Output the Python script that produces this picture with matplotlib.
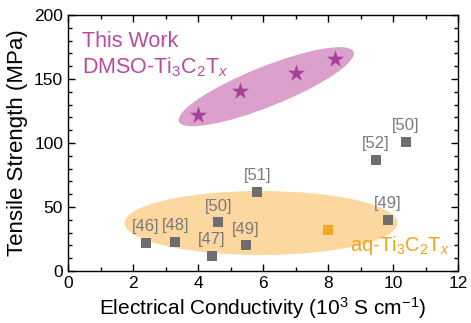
import matplotlib
matplotlib.use('Agg')
import matplotlib.pyplot as plt
from matplotlib.patches import Ellipse
from matplotlib.transforms import ScaledTranslation
from matplotlib.ticker import MultipleLocator

plt.rcParams['font.family'] = ['Liberation Sans', 'DejaVu Sans']
plt.rcParams['mathtext.fontset'] = 'custom'
plt.rcParams['mathtext.rm'] = 'Liberation Sans'
plt.rcParams['mathtext.it'] = 'Liberation Sans:italic'

# this work (DMSO-Ti3C2Tx)
work_x = [4.0, 5.3, 7.0, 8.2]
work_y = [122, 141, 155, 166]

# literature values
lit_x = [2.4, 3.3, 4.43, 4.62, 5.48, 5.82, 9.84, 9.47, 10.4]
lit_y = [22, 23, 12, 38, 20, 62, 40, 87, 101]
lit_refs = ['[46]', '[48]', '[47]', '[50]', '[49]', '[51]', '[49]', '[52]', '[50]']

# aq-Ti3C2Tx
aq_x = [8.0]
aq_y = [32]

fig = plt.figure(figsize=(4.71, 3.23), dpi=100)
ax = fig.add_axes([68/471, 52/323, 390/471, 256/323])

# shaded groups
ax.add_patch(Ellipse((5.94, 37.5), 8.4, 50, facecolor='#fccf88', alpha=0.8,
                     edgecolor='none', zorder=1))
pink = Ellipse((0, 0), 1.88, 0.40, angle=21.8, facecolor='#cf82bc', alpha=0.75,
               edgecolor='none', zorder=1,
               transform=fig.dpi_scale_trans + ScaledTranslation(6.1, 144, ax.transData))
ax.add_patch(pink)

ax.scatter(work_x, work_y, marker='*', s=170, color='#a8419a', zorder=3, linewidths=0)
ax.scatter(lit_x, lit_y, marker='s', s=62, color='#6e6e6e', zorder=3, linewidths=0)
ax.scatter(aq_x, aq_y, marker='s', s=62, color='#f5a623', zorder=3, linewidths=0)

for x, y, r in zip(lit_x, lit_y, lit_refs):
    ax.annotate(r, (x, y), xytext=(0, 11.5), textcoords='offset points',
                ha='center', va='center', fontsize=12, color='#7a7a7a')

ax.text(0.43, 179, 'This Work', fontsize=15.5, color='#b84aa0', va='center')
ax.text(0.43, 159, r'DMSO-Ti$_3$C$_2$T$_{\it{x}}$', fontsize=15.5, color='#b84aa0', va='center')
ax.text(8.68, 20, r'aq-Ti$_3$C$_2$T$_{\it{x}}$', fontsize=14.5, color='#f5a21b', va='center')

ax.set_xlim(0, 12)
ax.set_ylim(0, 200)
ax.xaxis.set_major_locator(MultipleLocator(2))
ax.xaxis.set_minor_locator(MultipleLocator(1))
ax.yaxis.set_major_locator(MultipleLocator(50))
ax.yaxis.set_minor_locator(MultipleLocator(10))
ax.tick_params(which='both', direction='in', top=True, right=True, labelsize=12.5, width=1)
ax.tick_params(which='major', length=5)
ax.tick_params(which='minor', length=3)
for s in ax.spines.values():
    s.set_linewidth(1)

ax.set_xlabel(r'Electrical Conductivity (10$^3$ S cm$^{-1}$)', fontsize=15, labelpad=3)
ax.set_ylabel('Tensile Strength (MPa)', fontsize=16, labelpad=4)

fig.savefig('out.png', dpi=100)
